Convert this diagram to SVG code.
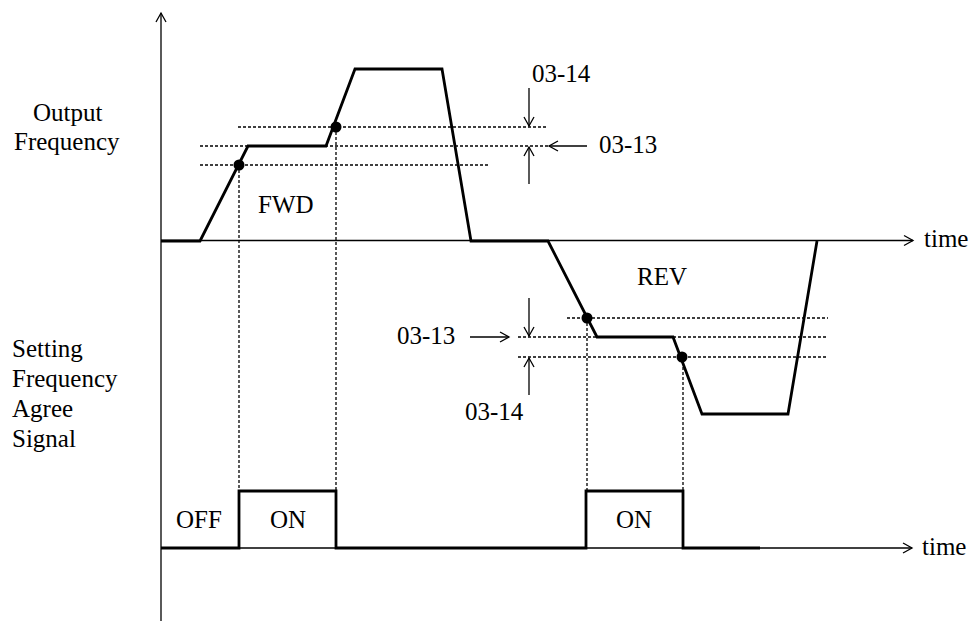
<svg xmlns="http://www.w3.org/2000/svg" width="977" height="621" viewBox="0 0 977 621">
<style>
  text{font-family:'Liberation Serif','DejaVu Serif',serif;font-size:25px;fill:#000}
  .ax{stroke:#000;stroke-width:1.3;fill:none}
  .sig{stroke:#000;stroke-width:2.8;fill:none;stroke-linejoin:miter}
  .dot{stroke:#000;stroke-width:1.3;stroke-dasharray:3,2;fill:none}
  .arr{stroke:#000;stroke-width:1.3;fill:none}
</style>
<defs>
  <marker id="open" markerUnits="userSpaceOnUse" markerWidth="12" markerHeight="12" refX="10" refY="6" orient="auto" overflow="visible">
    <path d="M1,1 L10,6 L1,11" fill="none" stroke="#000" stroke-width="1.3"/>
  </marker>
</defs>
<rect width="977" height="621" fill="#fff"/>
<g id="axes">
  <line class="ax" x1="161" y1="621" x2="161" y2="13" marker-end="url(#open)"/>
  <line class="ax" x1="161" y1="240.5" x2="913" y2="240.5" marker-end="url(#open)"/>
  <line class="ax" x1="161" y1="548" x2="912" y2="548" marker-end="url(#open)"/>
  <text x="924" y="247">time</text>
  <text x="922" y="555">time</text>
</g>
<g id="labels">
  <text x="33" y="121">Output</text>
  <text x="14" y="150">Frequency</text>
  <text x="12" y="357">Setting</text>
  <text x="12" y="387">Frequency</text>
  <text x="12" y="417">Agree</text>
  <text x="12" y="447">Signal</text>
  <text x="258" y="213">FWD</text>
  <text x="637" y="285">REV</text>
</g>
<g id="guides">
  <line class="dot" x1="238" y1="127" x2="547" y2="127"/>
  <line class="dot" x1="200" y1="146" x2="548" y2="146"/>
  <line class="dot" x1="200" y1="165" x2="490" y2="165"/>
  <line class="dot" x1="567" y1="318" x2="828" y2="318"/>
  <line class="dot" x1="518" y1="337" x2="828" y2="337"/>
  <line class="dot" x1="518" y1="357" x2="828" y2="357"/>
  <line class="dot" x1="239" y1="165" x2="239" y2="491"/>
  <line class="dot" x1="336" y1="127" x2="336" y2="491"/>
  <line class="dot" x1="587" y1="318" x2="587" y2="491"/>
  <line class="dot" x1="683" y1="357" x2="683" y2="491"/>
</g>
<g id="output-frequency">
  <polyline class="sig" points="161,241 200,241 248,146 326,146 355,69 442,69 471,241 548,241 597,337 673,337 702,414 788,414 817,241"/>
  <circle cx="239" cy="165" r="5.5" fill="#000"/>
  <circle cx="336" cy="127" r="5.5" fill="#000"/>
  <circle cx="587" cy="318" r="5.5" fill="#000"/>
  <circle cx="682" cy="357" r="5.5" fill="#000"/>
</g>
<g id="agree-signal">
  <polyline class="sig" points="161,548 239,548 239,491 336,491 336,548 586,548 586,491 683,491 683,548 760,548"/>
  <text x="176" y="528">OFF</text>
  <text x="270" y="528">ON</text>
  <text x="616" y="528">ON</text>
</g>
<g id="connectors">
  <line class="arr" x1="529" y1="88" x2="529" y2="126" marker-end="url(#open)"/>
  <line class="arr" x1="529" y1="184" x2="529" y2="147" marker-end="url(#open)"/>
  <line class="arr" x1="587" y1="146" x2="549" y2="146" marker-end="url(#open)"/>
  <line class="arr" x1="529" y1="298" x2="529" y2="336" marker-end="url(#open)"/>
  <line class="arr" x1="529" y1="395" x2="529" y2="358" marker-end="url(#open)"/>
  <line class="arr" x1="470" y1="337" x2="509" y2="337" marker-end="url(#open)"/>
</g>
<g id="param-labels">
  <text x="532" y="82">03-14</text>
  <text x="599" y="153">03-13</text>
  <text x="397" y="344">03-13</text>
  <text x="465" y="420">03-14</text>
</g>
</svg>
